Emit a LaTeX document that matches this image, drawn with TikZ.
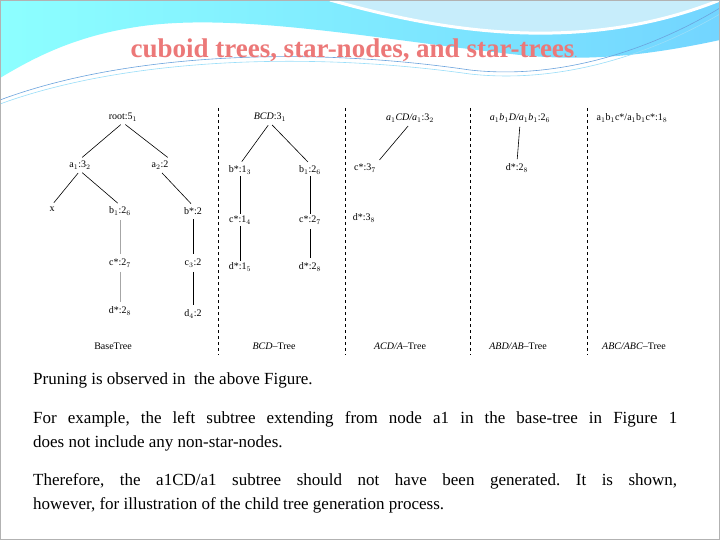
\documentclass[tikz,border=0pt]{standalone}
\usepackage{fontspec}
\setmainfont{Liberation Serif}
\frenchspacing
\begin{document}
\begin{tikzpicture}[x=1pt,y=-1pt,
  lab/.style={font=\fontsize{10}{11}\selectfont, inner sep=1.5pt},
  edge/.style={line width=0.6pt, shorten <=3pt, shorten >=3pt},
  gedge/.style={line width=0.9pt, draw=gray!70, shorten <=3pt, shorten >=3pt},
  sep/.style={dashed, line width=0.7pt},
  body/.style={font=\fontsize{17}{24}\selectfont, anchor=north west, align=justify, text width=644pt, inner sep=0pt}]
\useasboundingbox (0,0) rectangle (720,540);
\fill[white] (0,0) rectangle (720,540);
% header waves
\shade[left color=cyan!45!white, right color=blue!30!cyan!55!white]
  (0,0) -- (720,0) -- (720,40) .. controls (650,55) and (590,62) .. (520,55)
  .. controls (380,40) and (230,10) .. (130,28) .. controls (70,38) and (30,60) .. (0,78) -- cycle;
\fill[cyan!22!white] (330,0) .. controls (420,25) and (570,60) .. (720,0) -- cycle;
\draw[white, line width=3pt] (330,0) .. controls (420,25) and (570,60) .. (720,0);
\draw[cyan!60!blue!60, line width=0.6pt] (0,100) .. controls (120,55) and (300,45) .. (470,70) .. controls (560,80) and (650,50) .. (720,8);
\draw[cyan!40!white, line width=0.6pt] (0,104) .. controls (120,60) and (300,50) .. (470,74) .. controls (560,84) and (650,55) .. (720,14);
\draw[gray!60] (0.5,0.5) rectangle (719.5,539.5);
\node[font=\bfseries\fontsize{27}{28}\selectfont, text={rgb,255:red,236;green,120;blue,120}] (title) at (354,50) {cuboid trees, star-nodes, and star-trees\textmd{\fontsize{12}{12}\selectfont .}};
% figure area
\fill[white] (42,105) rectangle (678,358);
% separators
\coordinate (s1t) at (218,108); \coordinate (s1b) at (218,355);
\coordinate (s2t) at (345,108); \coordinate (s2b) at (345,355);
\coordinate (s3t) at (470,108); \coordinate (s3b) at (470,355);
\coordinate (s4t) at (587,108); \coordinate (s4b) at (587,355);
\draw[sep] (s1t) -- (s1b); \draw[sep] (s2t) -- (s2b);
\draw[sep] (s3t) -- (s3b); \draw[sep] (s4t) -- (s4b);
% base tree
\node[lab] (root) at (123,117) {root:5$_1$};
\node[lab] (a1) at (80,165) {a$_1$:3$_2$};
\node[lab] (a2) at (160,165) {a$_2$:2};
\node[lab] (x) at (52,209) {x};
\node[lab] (b1) at (120,211) {b$_1$:2$_6$};
\node[lab] (bs) at (193,211) {b*:2};
\node[lab] (cs) at (120,263) {c*:2$_7$};
\node[lab] (e3) at (193,263) {c$_3$:2};
\node[lab] (ds) at (120,311) {d*:2$_8$};
\node[lab] (d4) at (193,314) {d$_4$:2};
\node[lab] (bt) at (113,346) {BaseTree};
\draw[edge] (root.south) -- (a1.north);
\draw[edge] (root.south) -- (a2.north east);
\draw[edge] (a1.south) -- (x.north);
\draw[edge] (a1.south) -- (b1.north);
\draw[edge] (a2.south) -- (bs.north);
\draw[gedge] (b1) -- (cs); \draw[gedge] (cs) -- (ds);
\draw[edge] (bs) -- (e3); \draw[edge] (e3) -- (d4);
% BCD tree
\node[lab] (bcd) at (270,117) {\textit{BCD}:3$_1$};
\node[lab] (p1) at (240,170) {b*:1$_3$};
\node[lab] (q1) at (310,170) {b$_1$:2$_6$};
\node[lab] (p2) at (240,220) {c*:1$_4$};
\node[lab] (q2) at (310,220) {c*:2$_7$};
\node[lab] (p3) at (240,267) {d*:1$_5$};
\node[lab] (q3) at (310,267) {d*:2$_8$};
\node[lab] (bcdt) at (274,346) {\textit{BCD}--Tree};
\draw[edge] (bcd.south) -- (p1.north);
\draw[edge] (bcd.south) -- (q1.north);
\draw[edge] (p1) -- (p2) (p2) -- (p3) (q1) -- (q2) (q2) -- (q3);
% ACD tree
\node[lab] (acd) at (410,118) {\textit{a}$_1$\textit{CD/a}$_1$:3$_2$};
\node[lab] (r1) at (365,168) {c*:3$_7$};
\node[lab] (r2) at (364,218) {d*:3$_8$};
\node[lab] (acdt) at (400,346) {\textit{ACD/A}--Tree};
\draw[edge] (acd.south) -- (r1.north east);
% ABD tree
\node[lab] (abd) at (520,118) {\textit{a}$_1$\textit{b}$_1$\textit{D/a}$_1$\textit{b}$_1$:2$_6$};
\node[lab] (t1) at (517,168) {d*:2$_8$};
\node[lab] (abdt) at (518,346) {\textit{ABD/AB}--Tree};
\draw[edge] (abd.south) -- (t1.north);
% ABC tree
\node[lab] (abc) at (632,118) {a$_1$b$_1$c*/a$_1$b$_1$c*:1$_8$};
\node[lab] (abct) at (634,346) {\textit{ABC/ABC}--Tree};
% body text
\node[body] (t1p) at (33,373) {Pruning is observed in\ \ the above Figure.};
\node[body] (t2p) at (33,411) {For example, the left subtree extending from node a1 in the base-tree in Figure 1\linebreak does not include any non-star-nodes.};
\node[body] (t3p) at (33,473) {Therefore, the a1CD/a1 subtree should not have been generated. It is shown,\linebreak however, for illustration of the child tree generation process.};
\end{tikzpicture}
\end{document}
